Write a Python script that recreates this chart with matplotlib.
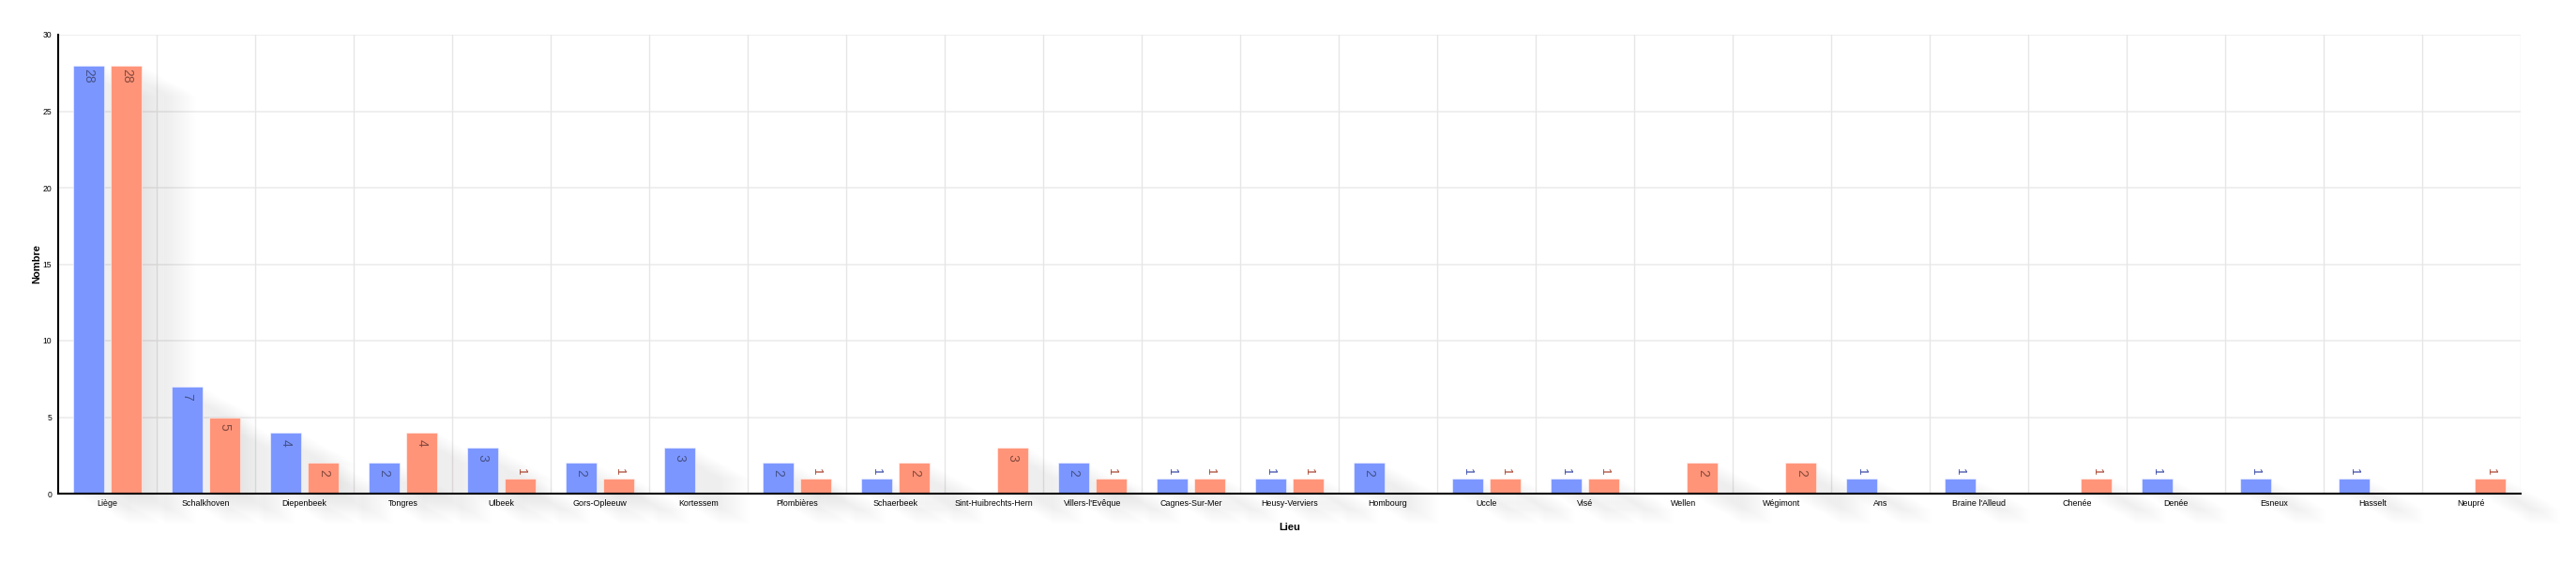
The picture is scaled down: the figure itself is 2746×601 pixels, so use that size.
import matplotlib.pyplot as plt
import matplotlib.transforms as mtransforms
import numpy as np

plt.rcParams['font.family'] = ['Liberation Sans', 'DejaVu Sans']

# Lieux et nombres par série
lieux = ['Liège', 'Schalkhoven', 'Diepenbeek', 'Tongres', 'Ulbeek', 'Gors-Opleeuw',
         'Kortessem', 'Plombières', 'Schaerbeek', 'Sint-Huibrechts-Hern',
         "Villers-l'Evêque", 'Cagnes-Sur-Mer', 'Heusy-Verviers', 'Hombourg', 'Uccle',
         'Visé', 'Wellen', 'Wégimont', 'Ans', "Braine l'Alleud", 'Chenée', 'Denée',
         'Esneux', 'Hasselt', 'Neupré']
serie_bleue = [28, 7, 4, 2, 3, 2, 3, 2, 1, 0, 2, 1, 1, 2, 1, 1, 0, 0, 1, 1, 0, 1, 1, 1, 0]
serie_saumon = [28, 5, 2, 4, 1, 1, 0, 1, 2, 3, 1, 1, 1, 0, 1, 1, 2, 2, 0, 0, 1, 0, 0, 0, 1]
y_ticks = [0, 5, 10, 15, 20, 25, 30]

W, H = 2746, 601
fig = plt.figure(figsize=(W / 100, H / 100), dpi=100)
ax = fig.add_axes([62 / W, (H - 526) / H, 2625 / W, 489 / H])

x = np.arange(len(lieux))
largeur = 0.31
decal = 0.193

series = [
    (serie_bleue, -decal, '#7b96ff', '#4d66e0', '#46528a', '#3346a6'),
    (serie_saumon, decal, '#ff9479', '#dc6a50', '#86493c', '#a8412c'),
]

# ombres portées (copies décalées, empilées)
n_ombre = 30
dx, dy = 58, 32
for vals, off, col, ombre, _, _ in series:
    for k in range(1, n_ombre + 1):
        tr = mtransforms.offset_copy(ax.transData, fig=fig, x=dx * k / n_ombre,
                                     y=-dy * k / n_ombre, units='dots')
        ax.bar(x + off, vals, largeur, color=ombre, alpha=0.0058, linewidth=0,
               transform=tr, clip_on=False, zorder=1)

# barres
for vals, off, col, _, txt_in, txt_out in series:
    ax.bar(x + off, vals, largeur, color=col, linewidth=0.8,
           edgecolor=(1, 1, 1, 0.5), zorder=3)
    for xi, v in zip(x + off, vals):
        if v == 0:
            continue
        if v >= 2:
            ax.annotate(str(v), (xi, v), xytext=(0, -7.8), textcoords='offset points',
                        rotation=-90, ha='center', va='center', fontsize=10,
                        color=txt_in, zorder=4)
        else:
            ax.annotate(str(v), (xi, v), xytext=(0, 5.2), textcoords='offset points',
                        rotation=-90, ha='center', va='center', fontsize=9.5,
                        color=txt_out, zorder=4)

# grille
for yv in y_ticks[1:]:
    ax.axhline(yv, color='#efefef', linewidth=1.4, zorder=0)
for xv in np.arange(0.5, len(lieux), 1.0):
    ax.axvline(xv, color='#e6e6e6', linewidth=1.0, zorder=0)

ax.set_xlim(-0.5, len(lieux) - 0.5)
ax.set_ylim(0, 30)
ax.set_yticks(y_ticks)
ax.set_xticks(x)
ax.set_xticklabels(lieux, fontsize=6.4)
ax.tick_params(axis='y', labelsize=6.2, length=0, pad=5)
ax.tick_params(axis='x', length=0, pad=4.5)

for s in ['top', 'right']:
    ax.spines[s].set_visible(False)
for s in ['left', 'bottom']:
    ax.spines[s].set_linewidth(1.5)
    ax.spines[s].set_zorder(5)

ax.set_xlabel('Lieu', fontsize=8, fontweight='bold')
ax.set_ylabel('Nombre', fontsize=8, fontweight='bold')
ax.xaxis.set_label_coords(0.5, -36 / 489)
ax.xaxis.label.set_va('center')
ax.yaxis.set_label_coords(-23 / 2625, 0.5)
ax.yaxis.label.set_va('center')

fig.savefig('out.png', dpi=100, facecolor='white')
